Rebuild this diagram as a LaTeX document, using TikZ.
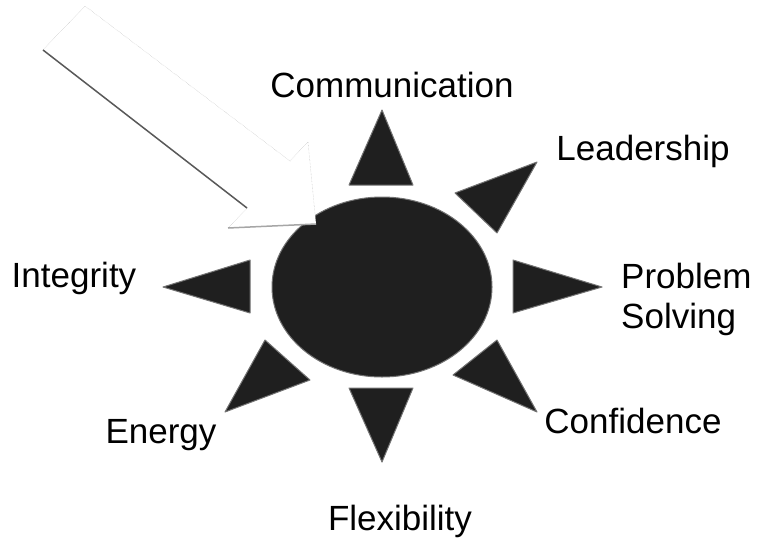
\documentclass[tikz,border=0pt]{standalone}
\usepackage{fontspec}
\setmainfont{Liberation Sans}

\begin{document}
\begin{tikzpicture}[x=1pt, y=-1pt,
  ray/.style={fill=black!88, draw=black!55, line width=1pt, line join=round},
  word/.style={anchor=base, inner sep=0pt, font=\fontsize{35}{40}\selectfont}]
 \useasboundingbox (0,0) rectangle (759,538);

 \draw[ray] (382,287) ellipse (110 and 90);
 \draw[ray] (349,185) -- (413,185) -- (382,110) -- cycle;
 \draw[ray] (349,388) -- (413,388) -- (382,462) -- cycle;
 \draw[ray] (250,260) -- (250,313) -- (163,287) -- cycle;
 \draw[ray] (513,260) -- (513,313) -- (602,287) -- cycle;
 \draw[ray] (455,193) -- (537,162) -- (497,233) -- cycle;
 \draw[ray] (453,375) -- (497,340) -- (537,412) -- cycle;
 \draw[ray] (265,340) -- (310,380) -- (225,412) -- cycle;

 % the big arrow pointing at the sun
 \draw[fill=white, draw=gray!60, densely dotted] (43,50) -- (85,6) -- (290,161) -- (308,142) -- (316,224) -- (228,228) -- (247,208) -- cycle;
 \draw[gray!70!black, line width=1.5pt] (43,50) -- (247,208);
 \draw[gray!70, line width=1.5pt] (228,228) -- (316,224);

 \node[word] (comm) at (392,97) {Communication};
 \node[word] (lead) at (643,160) {Leadership};
 \node[word, anchor=base west, align=left] (prob) at (621,328) {Problem\\Solving};
 \node[word] (conf) at (633,433) {Confidence};
 \node[word] (flex) at (400,530) {Flexibility};
 \node[word] (ener) at (161,443) {Energy};
 \node[word] (inte) at (74,287) {Integrity};
\end{tikzpicture}
\end{document}
